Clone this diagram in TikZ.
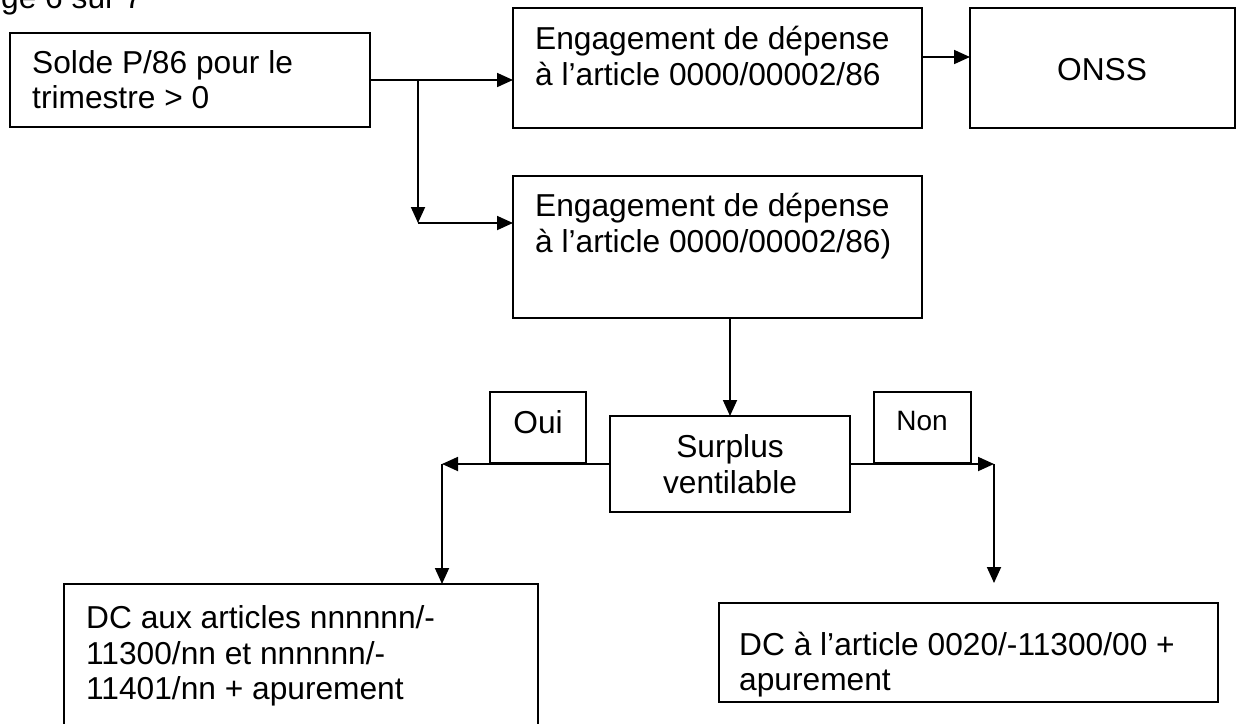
\documentclass[tikz,border=0pt]{standalone}
\usepackage{fontspec}
\setmainfont{Liberation Sans}
\usetikzlibrary{arrows.meta}
\newcommand\fsmain{\fontsize{31.7}{36}\selectfont}
\newcommand\fssmall{\fontsize{28}{32}\selectfont}
\begin{document}
\begin{tikzpicture}[x=1pt,y=-1pt,
  boxnode/.style={draw, line width=1.8pt, inner sep=0pt, outer sep=0pt, anchor=north west},
  txt/.style={anchor=base west, inner sep=0pt, font=\fsmain},
  ctxt/.style={anchor=base, inner sep=0pt, font=\fsmain},
  arr/.style={line width=1.8pt, -{Triangle[length=16pt,width=14pt]}}]
\useasboundingbox (0,0) rectangle (1237,723);
\clip (0,0) rectangle (1237,723);
\fill[white] (0,0) rectangle (1237,723);

% header (cut off at the top edge, as in the reference)
\node[txt] (hdr) at (1,8) {ge 6 sur 7};

% boxes
\node[boxnode, minimum width=360pt, minimum height=94pt] (A) at (10,33) {};
\node[boxnode, minimum width=409pt, minimum height=120pt] (B) at (513,8) {};
\node[boxnode, minimum width=265pt, minimum height=120pt] (C) at (970,8) {};
\node[boxnode, minimum width=409pt, minimum height=142pt] (D) at (513,176) {};
\node[boxnode, minimum width=240pt, minimum height=96pt] (S) at (610,416) {};
\node[boxnode, minimum width=96pt, minimum height=71pt] (O) at (490,392) {};
\node[boxnode, minimum width=97pt, minimum height=71pt] (N) at (874,392) {};
\node[boxnode, minimum width=474pt, minimum height=180pt] (E) at (64,584) {};
\node[boxnode, minimum width=499pt, minimum height=99pt] (F) at (719,603) {};

% texts
\node[txt] (A1) at (32,73) {Solde P/86 pour le};
\node[txt] (A2) at (32,108) {trimestre > 0};
\node[txt] (B1) at (535,49) {Engagement de dépense};
\node[txt] (B2) at (535,85) {à l’article 0000/00002/86};
\node[ctxt] (C1) at (1102,80) {ONSS};
\node[txt] (D1) at (535,216) {Engagement de dépense};
\node[txt] (D2) at (535,252) {à l’article 0000/00002/86)};
\node[ctxt] (S1) at (730,457) {Surplus};
\node[ctxt] (S2) at (730,493) {ventilable};
\node[ctxt] (O1) at (538,433) {Oui};
\node[anchor=base, inner sep=0pt, font=\fssmall] (N1) at (922,430) {Non};
\node[txt] (E1) at (86,628) {DC aux articles nnnnnn/-};
\node[txt] (E2) at (86,664) {11300/nn et nnnnnn/-};
\node[txt] (E3) at (86,699) {11401/nn + apurement};
\node[txt] (F1) at (739,655) {DC à l’article 0020/-11300/00 +};
\node[txt] (F2) at (739,690) {apurement};

% connectors
\coordinate (j1) at (418,80);
\coordinate (j2) at (418,223);
\draw[arr] (A.east) -- (B.west |- A.east);
\draw[arr] (j1) -- (j2);
\draw[arr] (j2) -- (D.west |- j2);
\coordinate (bc) at (946,57);
\draw[arr] (B.east |- bc) -- (C.west |- bc);
\draw[arr] (D.south -| S.north) -- (S.north);
\coordinate (L) at (442,464);
\draw[arr] (S.west |- L) -- (L);
\draw[arr] (L) -- (E.north -| L);
\coordinate (R) at (994,464);
\coordinate (Rb) at (994,583);
\draw[arr] (S.east |- R) -- (R);
\draw[arr] (R) -- (Rb);
\end{tikzpicture}
\end{document}
